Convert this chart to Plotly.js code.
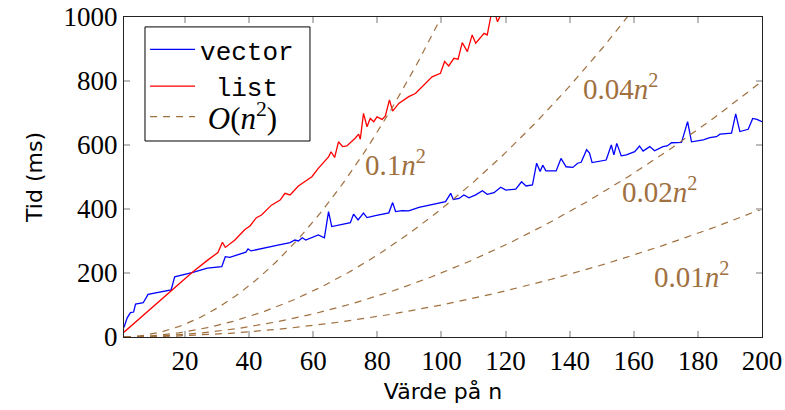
<!DOCTYPE html>
<html>
<head>
<meta charset="utf-8">
<script src="https://cdn.plot.ly/plotly-3.0.1.min.js"></script>
<style>html,body{margin:0;padding:0;background:#fff;}#chart{width:785px;height:410px;}</style>
</head>
<body>
<div id="chart"></div>
<script>
// vector timings (n, ms)
const vectorN = [1,2,3,4,4.6,7,8.5,12.5,15.7,16.8,18.5,22.5,27,31.5,32.6,34,39,39.7,40.6,44,49,52.8,54.3,55.4,56.6,57.7,61.6,63.5,64.8,65.8,70,71.6,72.6,74,75.7,76.8,79.4,83.6,84.8,85.7,87.7,89.8,93,100.3,101.3,102.9,103.7,105.5,107,108.6,110.7,112.8,114.3,116.4,118.5,120.1,123.2,125,126.4,128.4,129.7,130.8,131.6,132.6,135.8,137.3,138.9,141,142.5,143.6,145.3,146.2,147,151.4,153,153.8,154.7,156.1,157.7,160.3,161.8,162.9,165,166.5,169.1,170.4,171.8,174.9,176.8,178,181.7,183.7,185.8,186.9,190.5,191.8,193.1,195.7,197.1,198.4,200];
const vectorT = [30,60,76,78,103,107,133,142,147,188,192,202,215,220,251,249,265,275,269,277,287,295,303,300,310,303,319,310,392,345,355,357,384,366,387,373,379,388,420,392,395,394,405,420,423,449,430,433,444,435,444,457,446,451,468,459,462,485,472,475,543,517,537,519,519,558,532,530,543,546,585,575,545,553,600,569,605,566,569,579,597,581,595,582,595,597,607,608,673,610,616,623,626,634,637,697,642,649,683,680,673];
// list timings (n, ms)
const listN = [1,22.5,27.2,30.3,31.7,32.6,35.6,38.7,40.3,42.3,43.9,47,49.7,51.2,52.8,55.4,59.6,61.6,64.8,65.6,66.7,67.9,69.2,70.5,73.1,74.2,74.7,75.7,76.8,77.8,78.9,79.9,81.5,82.5,83.8,84.8,86.7,89.8,91.9,95.1,97.1,99.7,101,102.3,103.9,105.2,106.5,108.1,109.6,110.7,113.3,114.3,115.4,116.5,117.5,118.5,121,125];
const listT = [15,204,241,264,296,280,303,336,347,373,381,412,428,449,444,472,501,527,563,579,561,610,595,597,621,634,618,699,657,683,673,688,680,690,741,706,730,751,761,793,813,824,861,847,871,868,920,892,944,918,949,944,1001,1020,985,1006,1040,1080];
// O(n^2) reference curves: coefficient c in c*n^2
const refCoefs = [0.1, 0.04, 0.02, 0.01];
const refLabels = ['0.1', '0.04', '0.02', '0.01'];
const refLabelN = [85.8, 156, 168, 178];
const refLabelT = [544, 781, 459, 194];
const xTicks = [20,40,60,80,100,120,140,160,180,200];
const yTicks = [0,200,400,600,800,1000];

const brown = '#a0703f';
const serif = 'Liberation Serif, DejaVu Serif, serif';
const nGrid = [];
for (let n = 1; n <= 200; n += 1) nGrid.push(n);

const traces = [
  {x: vectorN, y: vectorT, mode: 'lines', name: 'vector', legend: 'legend', line: {color: '#0000ff', width: 1.3}},
  {x: listN, y: listT, mode: 'lines', name: ' list', legend: 'legend', line: {color: '#ff0000', width: 1.3}},
];
refCoefs.forEach((c, i) => {
  traces.push({
    x: nGrid, y: nGrid.map(n => c * n * n), mode: 'lines',
    name: ' <i>O</i>(<i>n</i><sup>2</sup>)', legend: 'legend2',
    showlegend: i === 0, legendgroup: 'ref',
    line: {color: brown, width: 1.2, dash: '7px,6px'}
  });
});

const annotations = refLabels.map((lab, i) => ({
  x: refLabelN[i], y: refLabelT[i], xref: 'x', yref: 'y', showarrow: false,
  text: lab + '<i>n</i><sup>2</sup>',
  font: {family: serif, size: 29, color: brown}
}));

function makeAxis(extra) {
  return Object.assign({
    showgrid: false, zeroline: false, showline: true, linecolor: '#222', linewidth: 1,
    mirror: 'ticks', ticks: 'inside', ticklen: 6, tickwidth: 2, tickcolor: '#bbbbbb',
    tickfont: {family: serif, size: 27, color: '#000'}
  }, extra);
}

const legendCommon = {
  xanchor: 'left', bgcolor: 'rgba(0,0,0,0)', borderwidth: 0,
  itemwidth: 45, tracegroupgap: 0
};

const layout = {
  width: 785, height: 410,
  margin: {l: 124, r: 23, t: 17, b: 73},
  font: {family: serif, size: 27, color: '#000'},
  xaxis: makeAxis({
    range: [1, 200], tickmode: 'array', tickvals: xTicks, ticktext: xTicks.map(String),
    title: {text: 'Värde på n', font: {family: 'DejaVu Sans', size: 22, color: '#000'}, standoff: 8}
  }),
  yaxis: makeAxis({
    range: [0, 1000], tickmode: 'array', tickvals: yTicks, ticktext: yTicks.map(String),
    title: {text: 'Tid (ms)', font: {family: 'DejaVu Sans', size: 22, color: '#000'}, standoff: 14}
  }),
  showlegend: true,
  legend: Object.assign({}, legendCommon, {
    x: 0.033, y: 0.972, yanchor: 'top',
    font: {family: 'Liberation Mono', size: 26, color: '#000'}
  }),
  legend2: Object.assign({}, legendCommon, {
    x: 0.033, y: 0.6875, yanchor: 'middle',
    font: {family: serif, size: 31, color: '#000'}
  }),
  shapes: [{
    type: 'rect', xref: 'paper', yref: 'paper', layer: 'below',
    x0: 0.0329, x1: 0.2915, y0: 0.6125, y1: 0.969,
    line: {color: '#000', width: 1}, fillcolor: '#fff'
  }],
  annotations: annotations
};

Plotly.newPlot('chart', traces, layout, {displayModeBar: false, staticPlot: true}).then(function (gd) {
  if (document.fonts && document.fonts.ready) {
    document.fonts.ready.then(function () {
      Plotly.relayout(gd, {'xaxis.tickfont.family': serif, 'yaxis.tickfont.family': serif});
    });
  }
});
</script>
</body>
</html>
